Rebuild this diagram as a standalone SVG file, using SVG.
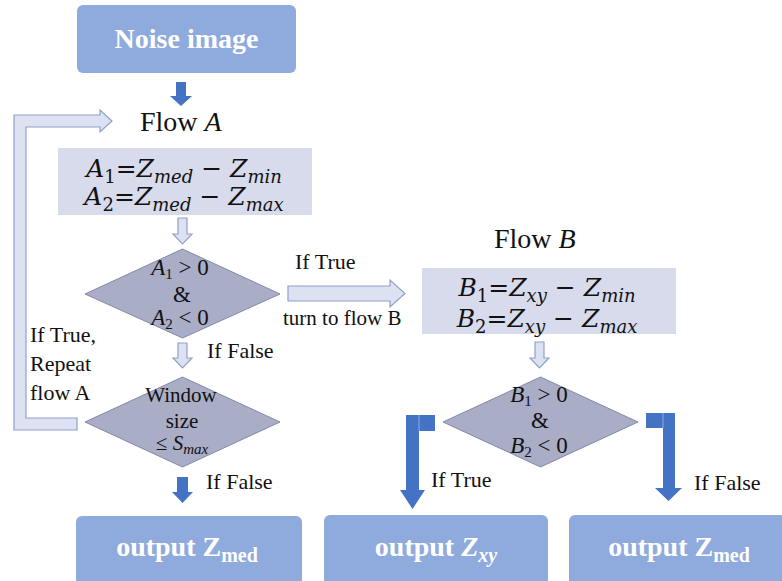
<svg xmlns="http://www.w3.org/2000/svg" width="782" height="581" viewBox="0 0 782 581">
<defs>
<style>
.box{fill:#8FAADC;}
.fbox{fill:#D8DBEB;}
.dia{fill:#A9ADC6;stroke:#8389A8;stroke-width:1;}
.blue{fill:#4472C4;}
.seam{stroke:#8FAADC;stroke-width:1;}
.hol{fill:#DCE2F2;stroke:#8FA0C8;stroke-width:1.2;}
.t{font-family:'Liberation Serif',serif;fill:#111111;}
.m{font-family:'DejaVu Serif',serif;fill:#111111;}
.w{font-family:'Liberation Serif',serif;font-weight:bold;fill:#FFFFFF;}
.i{font-style:italic;}
</style>
</defs>
<rect width="782" height="581" fill="#FFFFFF"/>

<g id="connectors">
  <path class="blue" d="M176,82 L186,82 L186,96 L192,96 L181,106 L170,96 L176,96 Z"/>
  <path class="blue" d="M177,477 L188,477 L188,492 L193,492 L182.5,503 L172,492 L177,492 Z"/>
  <path class="blue" d="M435,415 L406,415 L406,490 L400,490 L412.5,509 L425,490 L419,490 L419,431 L435,431 Z"/>
  <path class="blue" d="M646,413 L675,413 L675,488 L682,488 L668.5,501 L655,488 L663,488 L663,428 L646,428 Z"/>
  <line class="seam" x1="419" y1="415" x2="419" y2="431"/>
  <line class="seam" x1="663" y1="413" x2="663" y2="428"/>
  <path class="hol" d="M77,418 L77,430 L14,430 L14,115 L100,115 L100,110 L112,121 L100,132 L100,127 L26,127 L26,418 Z"/>
  <path class="hol" d="M178,218 L187,218 L187,234 L192,234 L182.5,244 L173,234 L178,234 Z"/>
  <path class="hol" d="M178,343 L187,343 L187,358 L192,358 L182.5,368 L173,358 L178,358 Z"/>
  <path class="hol" d="M288,286 L390,286 L390,280 L405,293.5 L390,307 L390,301 L288,301 Z"/>
  <path class="hol" d="M535,342 L544,342 L544,358 L549,358 L539.5,368 L530,358 L535,358 Z"/>
  <text class="t" x="295" y="269" font-size="22">If True</text>
  <text class="t" x="283" y="325" font-size="21">turn to flow B</text>
  <text class="t" x="207" y="358" font-size="22">If False</text>
  <text class="t" x="30" y="342" font-size="22">If True,</text>
  <text class="t" x="30" y="371" font-size="22">Repeat</text>
  <text class="t" x="30" y="400" font-size="22">flow A</text>
  <text class="t" x="206" y="489" font-size="22">If False</text>
  <text class="t" x="431" y="487" font-size="22">If True</text>
  <text class="t" x="694" y="490" font-size="22">If False</text>
</g>

<g id="noise-image">
  <rect class="box" x="77" y="5" width="219" height="68" rx="6"/>
  <text class="w" x="186.5" y="48" font-size="28" text-anchor="middle">Noise image</text>
</g>

<g id="flow-a">
  <text class="t" x="140" y="131" font-size="28">Flow <tspan class="i">A</tspan></text>
  <rect class="fbox" x="58" y="148" width="254" height="67"/>
  <text class="m" x="184" y="177" font-size="25" text-anchor="middle"><tspan class="i">A</tspan><tspan font-size="18" dy="6">1</tspan><tspan dy="-6">=</tspan><tspan class="i">Z</tspan><tspan class="i" font-size="18" dy="6">med</tspan><tspan dy="-6"> − </tspan><tspan class="i">Z</tspan><tspan class="i" font-size="18" dy="6">min</tspan></text>
  <text class="m" x="184" y="205" font-size="25" text-anchor="middle"><tspan class="i">A</tspan><tspan font-size="18" dy="6">2</tspan><tspan dy="-6">=</tspan><tspan class="i">Z</tspan><tspan class="i" font-size="18" dy="6">med</tspan><tspan dy="-6"> − </tspan><tspan class="i">Z</tspan><tspan class="i" font-size="18" dy="6">max</tspan></text>
</g>

<g id="decision-a">
  <polygon class="dia" points="182.5,249 280,294 182.5,338 85,294"/>
  <text class="t" x="180" y="275" font-size="23" text-anchor="middle"><tspan class="i">A</tspan><tspan font-size="15" dy="4">1</tspan><tspan dy="-4"> &gt; 0</tspan></text>
  <text class="t" x="182" y="302" font-size="23" text-anchor="middle">&amp;</text>
  <text class="t" x="180" y="325" font-size="23" text-anchor="middle"><tspan class="i">A</tspan><tspan font-size="15" dy="4">2</tspan><tspan dy="-4"> &lt; 0</tspan></text>
</g>

<g id="decision-window">
  <polygon class="dia" points="182.5,377 280,422 182.5,467 85,422"/>
  <text class="t" x="181" y="402" font-size="21" text-anchor="middle">Window</text>
  <text class="t" x="182" y="428" font-size="21" text-anchor="middle">size</text>
  <text class="t" x="182" y="450" font-size="21" text-anchor="middle">≤ <tspan class="i">S</tspan><tspan class="i" font-size="15" dy="4">max</tspan></text>
</g>

<g id="flow-b">
  <text class="t" x="494" y="248" font-size="28">Flow <tspan class="i">B</tspan></text>
  <rect class="fbox" x="422" y="268" width="254" height="66"/>
  <text class="m" x="547" y="296" font-size="25" text-anchor="middle"><tspan class="i">B</tspan><tspan font-size="18" dy="6">1</tspan><tspan dy="-6">=</tspan><tspan class="i">Z</tspan><tspan class="i" font-size="18" dy="6">xy</tspan><tspan dy="-6"> − </tspan><tspan class="i">Z</tspan><tspan class="i" font-size="18" dy="6">min</tspan></text>
  <text class="m" x="547" y="327" font-size="25" text-anchor="middle"><tspan class="i">B</tspan><tspan font-size="18" dy="6">2</tspan><tspan dy="-6">=</tspan><tspan class="i">Z</tspan><tspan class="i" font-size="18" dy="6">xy</tspan><tspan dy="-6"> − </tspan><tspan class="i">Z</tspan><tspan class="i" font-size="18" dy="6">max</tspan></text>
</g>

<g id="decision-b">
  <polygon class="dia" points="540.5,377 638,422 540.5,467 443,422"/>
  <text class="t" x="539" y="402" font-size="23" text-anchor="middle"><tspan class="i">B</tspan><tspan font-size="15" dy="4">1</tspan><tspan dy="-4"> &gt; 0</tspan></text>
  <text class="t" x="540" y="428" font-size="23" text-anchor="middle">&amp;</text>
  <text class="t" x="539" y="453" font-size="23" text-anchor="middle"><tspan class="i">B</tspan><tspan font-size="15" dy="4">2</tspan><tspan dy="-4"> &lt; 0</tspan></text>
</g>

<g id="output-med-left">
  <rect class="box" x="76" y="516" width="226" height="75" rx="6"/>
  <text class="w" x="187" y="556" font-size="28" text-anchor="middle">output Z<tspan font-size="20" dy="6">med</tspan></text>
</g>

<g id="output-xy">
  <rect class="box" x="324" y="515" width="224" height="76" rx="6"/>
  <text class="w" x="436" y="556" font-size="28" text-anchor="middle">output <tspan class="i">Z</tspan><tspan class="i" font-size="20" dy="6">xy</tspan></text>
</g>

<g id="output-med-right">
  <rect class="box" x="569" y="515" width="226" height="76" rx="6"/>
  <text class="w" x="679" y="556" font-size="28" text-anchor="middle">output Z<tspan font-size="20" dy="6">med</tspan></text>
</g>
</svg>
